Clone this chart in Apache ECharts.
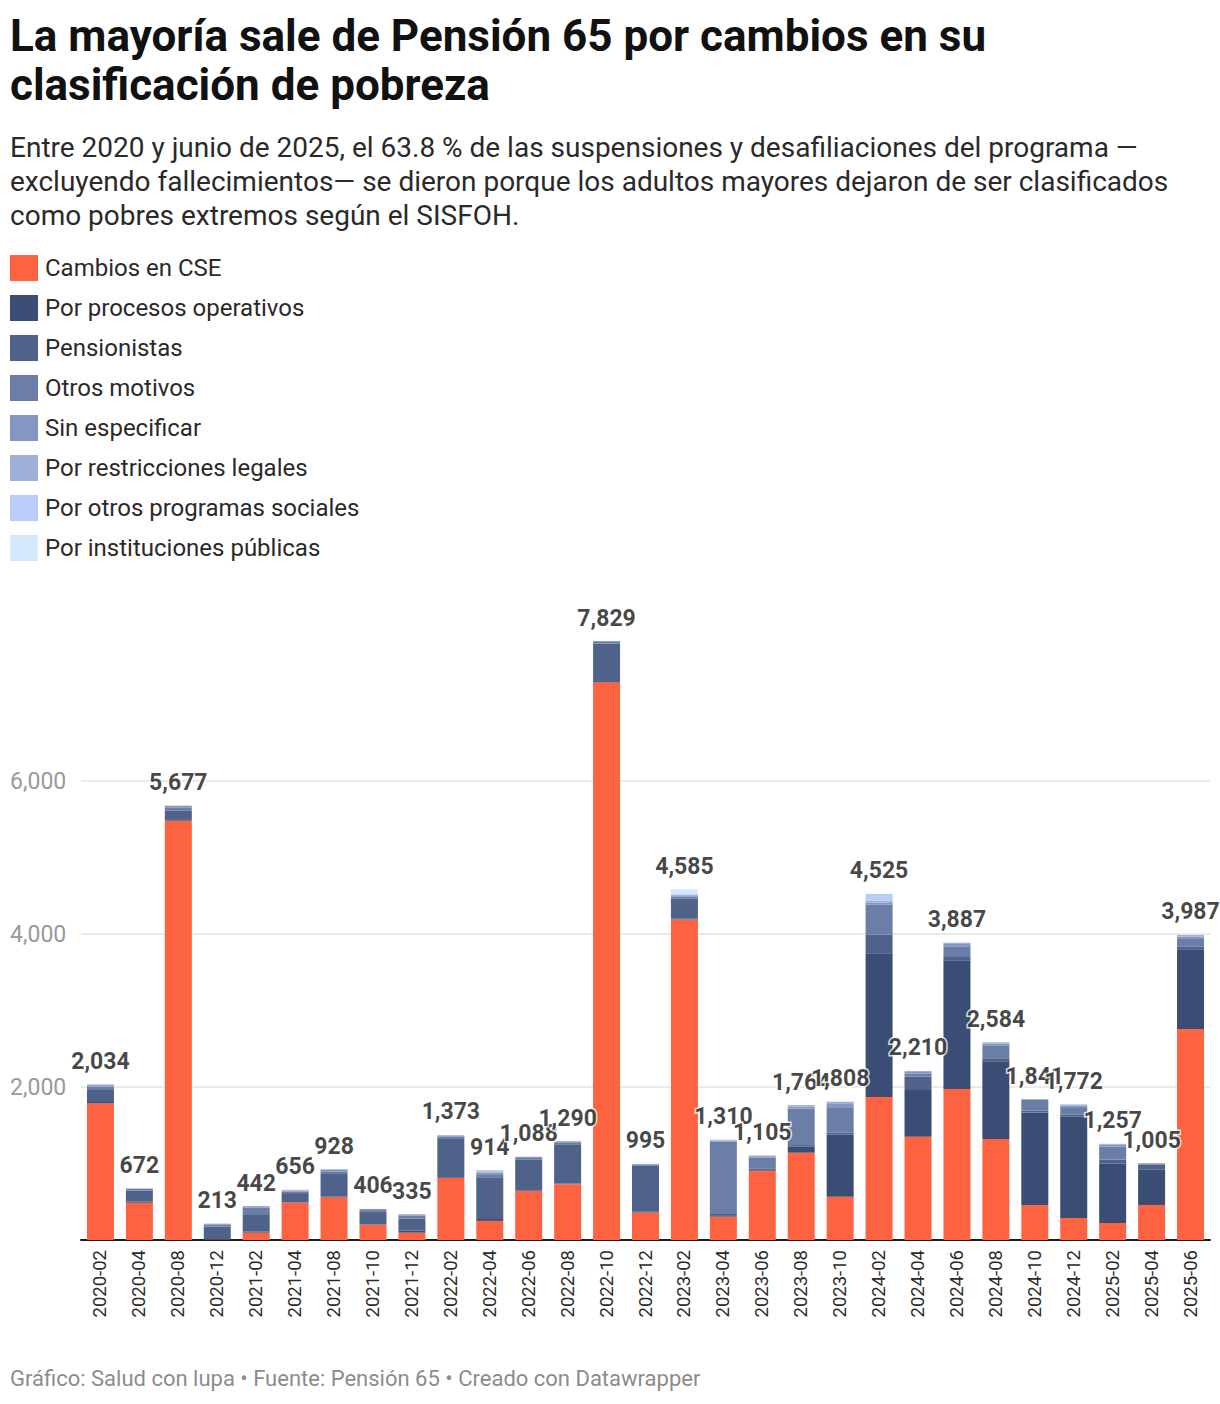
<!DOCTYPE html>
<html>
<head>
<meta charset="utf-8">
<script src="https://cdn.jsdelivr.net/npm/echarts@6/dist/echarts.min.js"></script>
<style>
html,body{margin:0;padding:0;background:#fff;}
#chart{width:1220px;height:1404px;}
</style>
</head>
<body>
<div id="chart"></div>
<script>
const categories = ["2020-02","2020-04","2020-08","2020-12","2021-02","2021-04","2021-08","2021-10","2021-12","2022-02","2022-04","2022-06","2022-08","2022-10","2022-12","2023-02","2023-04","2023-06","2023-08","2023-10","2024-02","2024-04","2024-06","2024-08","2024-10","2024-12","2025-02","2025-04","2025-06"];

const cambiosCSE     = [1787,488,5481,5,96,488,558,200,96,810,250,640,730,7290,360,4190,305,906,1141,566,1870,1351,1974,1320,458,288,222,458,2758];
const procOperativos = [17,12,10,5,13,5,9,5,28,10,25,8,8,5,10,10,10,10,78,810,1870,610,1675,1015,1207,1325,775,460,1035];
const pensionistas   = [157,148,125,165,218,120,296,160,158,500,545,400,515,500,600,265,25,14,22,30,250,175,50,32,28,24,54,68,45];
const otrosMotivos   = [45,18,40,25,96,22,35,26,35,30,40,25,25,22,15,25,945,150,479,330,392,40,140,178,140,100,168,12,97];
const sinEspecificar = [18,6,21,13,19,12,20,15,18,15,22,15,12,12,10,15,15,15,25,42,30,20,30,25,8,20,25,7,30];
const restrLegales   = [10,0,0,0,0,9,10,0,0,8,17,0,0,0,0,10,10,10,19,30,26,14,18,14,0,15,13,0,22];
const otrosProgramas = [0,0,0,0,0,0,0,0,0,0,15,0,0,0,0,10,0,0,0,0,87,0,0,0,0,0,0,0,0];
const instPublicas   = [0,0,0,0,0,0,0,0,0,0,0,0,0,0,0,60,0,0,0,0,0,0,0,0,0,0,0,0,0];

const yTicks = [2000,4000,6000];

const seriesDefs = [
  ["Cambios en CSE", cambiosCSE, "#fe6341"],
  ["Por procesos operativos", procOperativos, "#394d75"],
  ["Pensionistas", pensionistas, "#4f6289"],
  ["Otros motivos", otrosMotivos, "#6a7ea8"],
  ["Sin especificar", sinEspecificar, "#8496c1"],
  ["Por restricciones legales", restrLegales, "#9db1db"],
  ["Por otros programas sociales", otrosProgramas, "#b9ccfa"],
  ["Por instituciones públicas", instPublicas, "#d5e8fe"]
];

const totals = categories.map((c,i)=>seriesDefs.reduce((s,d)=>s+d[1][i],0));

const FONT = "Roboto";
const series = seriesDefs.map((d,k)=>({
  name:d[0], type:'bar', stack:'total', data:d[1],
  barWidth:27,
  itemStyle:{color:d[2]},
  emphasis:{disabled:true},
  markLine: k===0 ? {
    silent:true, symbol:['none','none'], label:{show:false},
    lineStyle:{color:'#e3e3e3', width:1.5, type:'solid'},
    data: yTicks.map(v=>({yAxis:v})),
    z:0
  } : undefined,
  z:2
}));
series.push({
  name:'Total', type:'scatter', data:totals, symbolSize:1,
  itemStyle:{color:'rgba(0,0,0,0)'},
  label:{show:true, position:'top', distance:11,
    formatter:p=>p.value.toLocaleString('en-US'),
    fontFamily:FONT, fontWeight:'bold', fontSize:23, color:'#161616',
    textBorderColor:'#fff', textBorderWidth:3},
  z:10, silent:true
});

const chart = echarts.init(document.getElementById('chart'), null, {renderer:'svg'});
chart.setOption({
  animation:false,
  backgroundColor:'#fff',
  textStyle:{fontFamily:FONT},
  title:[
    {text:"La mayoría sale de Pensión 65 por cambios en su\nclasificación de pobreza", left:10, top:11, padding:0,
     textStyle:{fontFamily:FONT, fontWeight:'bold', fontSize:44, lineHeight:49, color:'#111'}},
    {text:"Entre 2020 y junio de 2025, el 63.8 % de las suspensiones y desafiliaciones del programa —\nexcluyendo fallecimientos— se dieron porque los adultos mayores dejaron de ser clasificados\ncomo pobres extremos según el SISFOH.", left:10, top:130, padding:0,
     textStyle:{fontFamily:FONT, fontWeight:'normal', fontSize:28, lineHeight:34, color:'#2a2a2a'}},
    {text:"Gráfico: Salud con lupa • Fuente: Pensión 65 • Creado con Datawrapper", left:10, top:1367, padding:0,
     textStyle:{fontFamily:FONT, fontWeight:'normal', fontSize:22, color:'#8c8c8c'}}
  ],
  legend:{
    orient:'vertical', left:10, top:255, padding:0, itemWidth:28, itemHeight:26, itemGap:14,
    icon:'rect', selectedMode:false,
    data:seriesDefs.map(d=>d[0]),
    textStyle:{fontFamily:FONT, fontSize:24, color:'#2a2a2a', padding:[0,0,0,2]}
  },
  grid:{left:81, right:10, top:635.65, bottom:164, containLabel:false},
  xAxis:{
    type:'category', data:categories,
    axisLine:{lineStyle:{color:'#1d1d1d', width:2}},
    axisTick:{show:false},
    axisLabel:{rotate:90, interval:0, margin:10, fontFamily:FONT, fontSize:18.5, color:'#2a2a2a'}
  },
  yAxis:{
    type:'value', min:0, max:7900, interval:2000,
    axisLine:{show:false}, axisTick:{show:false},
    splitLine:{show:false},
    axisLabel:{margin:71, align:'left', fontFamily:FONT, fontSize:23, color:'#9a9a9a',
      formatter:v=> (yTicks.indexOf(v)>=0 ? v.toLocaleString('en-US') : '')}
  },
  series:series
});
</script>
</body>
</html>
